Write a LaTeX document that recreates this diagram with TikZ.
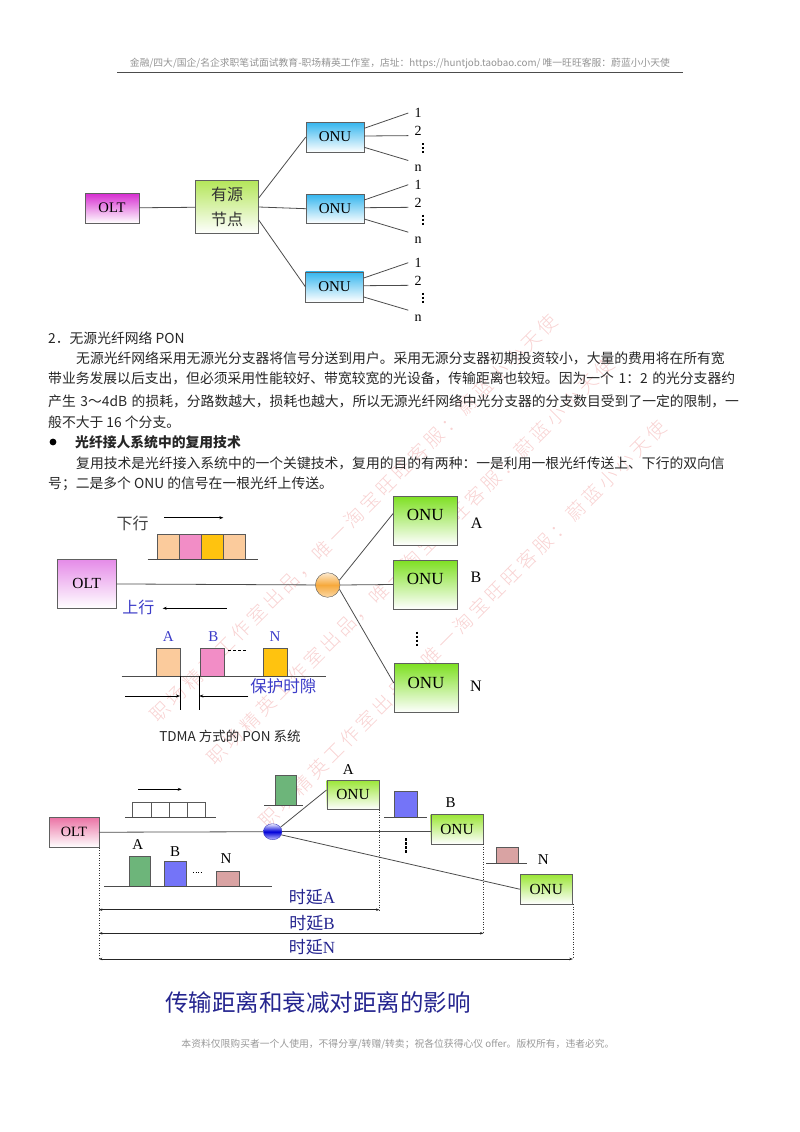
\documentclass[tikz,border=0pt]{standalone}
\usepackage{fontspec}
\setmainfont{Liberation Serif}
\newfontfamily\cjk{Noto Sans CJK SC}
\newfontfamily\wmark{Noto Sans CJK SC Light}[LetterSpace=20]
\usetikzlibrary{arrows.meta, shapes.geometric}
\XeTeXlinebreaklocale "zh"
\XeTeXlinebreakskip=0pt plus 2pt minus 0.3pt
\newcommand\fsz[1]{\fontsize{#1}{#1}\selectfont}

\definecolor{oltmag}{HTML}{D62AD0}
\definecolor{actgreen}{HTML}{B4E65A}
\definecolor{onublue}{HTML}{33B5EE}
\definecolor{oltpink}{HTML}{E58BE8}
\definecolor{onugreen}{HTML}{7EE022}
\definecolor{oltrose}{HTML}{EB73A5}
\definecolor{onulime}{HTML}{9BE637}
\definecolor{peach}{HTML}{FBCB9C}
\definecolor{pinkp}{HTML}{F28DC6}
\definecolor{goldp}{HTML}{FFC30F}
\definecolor{pktgreen}{HTML}{6DB57A}
\definecolor{pktblue}{HTML}{7474F8}
\definecolor{pktrose}{HTML}{D9A3A3}
\definecolor{upblue}{HTML}{3C3CC8}
\definecolor{navy}{HTML}{25258F}
\definecolor{splorange}{HTML}{F6A93C}
\definecolor{wmred}{HTML}{F8D2D2}

\begin{document}
\begin{tikzpicture}[x=1pt, y=-1pt,
    box/.style={draw=gray!75!black, rectangle, inner sep=0pt},
    wire/.style={draw=gray!60!black, line width=0.8pt},
    lab/.style={inner sep=1pt, font=\fsz{14}},
    pkt/.style={draw=gray!70!black, line width=0.5pt},
    base/.style={draw=gray!60!black, line width=0.8pt},
    arr/.style={-{Stealth[length=4pt,width=3pt]}, line width=0.6pt},
    dly/.style={{Stealth[length=3.5pt,width=2.5pt]}-{Stealth[length=3.5pt,width=2.5pt]}, line width=0.6pt, draw=gray!30!black},
    dotcol/.style={line width=2.2pt, dash pattern=on 2.4pt off 1.6pt},
    guide/.style={gray!40!black, line width=0.6pt, dash pattern=on 1pt off 1.5pt},
    txt/.style={inner sep=0pt, font=\cjk\fsz{13.8}, text=black!85},
    wm/.style={rotate=45, font=\wmark\fsz{19}, text=wmred, inner sep=0pt},
    onutop/.style={box, top color=onublue, bottom color=white, minimum width=58pt, minimum height=30pt, font=\fsz{15}},
    onumid/.style={box, top color=onugreen, bottom color=white, minimum width=64pt, minimum height=49pt, text depth=11pt, font=\fsz{17}},
    onubot/.style={box, top color=onulime, bottom color=white, minimum width=52.6pt, minimum height=29.3pt, font=\fsz{15.4}}]
\useasboundingbox (0,0) rectangle (800,1132);

% watermark
\node[wm] (wm1) at (354,518) {职场精英工作室出品，唯一淘宝旺旺客服：蔚蓝小小天使};
\node[wm] (wm2) at (411,561) {职场精英工作室出品，唯一淘宝旺旺客服：蔚蓝小小天使};
\node[wm] (wm3) at (463,624) {职场精英工作室出品，唯一淘宝旺旺客服：蔚蓝小小天使};

% header
\node[font=\cjk\fsz{9.8}, text=gray!85] (hdr) at (400,64) {金融/四大/国企/名企求职笔试面试教育-职场精英工作室，店址：https://huntjob.taobao.com/ 唯一旺旺客服：蔚蓝小小天使};
\draw[gray!60!black, line width=1.3pt] (117,72.5) -- (683,72.5);

% active node tree
\node[box, top color=oltmag, bottom color=white, minimum width=54pt, minimum height=30pt, font=\fsz{14.6}] (olt0) at (112,208) {OLT};
\node[box, top color=actgreen, bottom color=white, minimum width=63pt, minimum height=53pt, align=center, font=\cjk\fsz{16}, text=black!80] (act) at (227,207) {有源\\[9pt]节点};
\node[onutop] (onu01) at (335,137) {ONU};
\node[onutop, minimum height=29pt] (onu02) at (335,208.7) {ONU};
\node[onutop] (onu03) at (334.5,286.7) {ONU};
\draw[wire] (olt0) -- (act);
\draw[wire] ([yshift=9pt]act.east) -- (onu01.west);
\draw[wire] (act.east) -- (onu02.west);
\draw[wire] ([yshift=-13pt]act.east) -- (onu03.west);
\foreach \i/\c in {1/137, 2/208.7, 3/286.7}{
  \node[lab] (one\i) at (418,\c-24) {1};
  \node[lab] (two\i) at (418,\c-6) {2};
  \node[lab] (en\i) at (418,\c+31) {n};
  \draw[wire] ([yshift=8.7pt]onu0\i.east) -- ([xshift=-5pt]one\i.west);
  \draw[wire] ([yshift=1pt]onu0\i.east) -- ([xshift=-5pt]two\i.base west);
  \draw[wire] ([yshift=-10.3pt]onu0\i.east) -- ([xshift=-5pt,yshift=3pt]en\i.north west);
  \draw[dotcol] (423,\c+6) -- (423,\c+16);
}

% text
\node[txt, anchor=west] (h2) at (48,338) {2．无源光纤网络 PON};
\node[txt, anchor=west, text width=663pt] (p1) at (76,358) {\parfillskip=0pt 无源光纤网络采用无源光分支器将信号分送到用户。采用无源分支器初期投资较小，大量的费用将在所有宽};
\node[txt, anchor=west, text width=691pt] (p2) at (48,378) {\parfillskip=0pt 带业务发展以后支出，但必须采用性能较好、带宽较宽的光设备，传输距离也较短。因为一个 1：2 的光分支器约};
\node[txt, anchor=west, text width=691pt] (p3) at (48,401) {\parfillskip=0pt 产生 3～4dB 的损耗，分路数越大，损耗也越大，所以无源光纤网络中光分支器的分支数目受到了一定的限制，一};
\node[txt, anchor=west] (p4) at (48,422) {般不大于 16 个分支。};
\fill[black] (53,442) circle (3.4);
\node[txt, anchor=west, font=\cjk\bfseries\fsz{13.8}] (sec) at (75,442) {光纤接人系统中的复用技术};
\node[txt, anchor=west, text width=663pt] (q1) at (76,463) {\parfillskip=0pt 复用技术是光纤接入系统中的一个关键技术，复用的目的有两种：一是利用一根光纤传送上、下行的双向信};
\node[txt, anchor=west] (q2) at (48,484) {号；二是多个 ONU 的信号在一根光纤上传送。};

% TDMA PON
\node[box, top color=oltpink, bottom color=white, minimum width=58.7pt, minimum height=49pt, font=\fsz{15.4}] (olt1) at (86.7,583.8) {OLT};
\node[circle, draw=gray!70!black, minimum size=24.6pt, inner sep=0pt, top color=white!75!splorange, bottom color=white!55!splorange, middle color=splorange] (sp1) at (327.7,585) {};
\node[onumid] (onuA) at (425.3,520.5) {ONU};
\node[onumid] (onuB) at (425.3,584.5) {ONU};
\node[onumid] (onuN) at (426,688) {ONU};
\node[lab, font=\fsz{16}] (labA) at (476.7,523.3) {A};
\node[lab, font=\fsz{16}] (labB) at (476,577.3) {B};
\node[lab, font=\fsz{16}] (labN) at (476,686.7) {N};
\draw[wire] (olt1) -- (sp1);
\draw[wire] (sp1.22) -- ([yshift=7pt]onuA.west);
\draw[wire] (sp1.east) -- (onuB.west);
\draw[wire] (sp1.-20) -- ([yshift=5pt]onuN.west);
\draw[dotcol] (416.7,631.7) -- (416.7,646.7);

\node[font=\cjk\fsz{16}, text=black!75] (down1) at (132.7,523.3) {下行};
\draw[arr] (164,517.7) -- (223.3,517.7);
\foreach \c [count=\k from 0] in {peach,pinkp,goldp,peach}
  \filldraw[pkt, fill=\c] (157.3+21.9*\k,534) rectangle ++(21.9,25);
\draw[base] (147.7,559) -- (258.3,559);

\node[font=\cjk\fsz{16}, text=upblue] (up1) at (138.3,607.3) {上行};
\draw[arr] (226.7,608.3) -- (162.7,608.3);
\node[lab, font=\fsz{15}, text=upblue] (upA) at (168.3,636.7) {A};
\node[lab, font=\fsz{15}, text=upblue] (upB) at (213.3,636.7) {B};
\node[lab, font=\fsz{15}, text=upblue] (upN) at (275,636.7) {N};
\filldraw[pkt, fill=peach] (156,648.3) rectangle (180,676);
\filldraw[pkt, fill=pinkp] (200,648.3) rectangle (224,676);
\filldraw[pkt, fill=goldp] (263.3,648.3) rectangle (287.3,676);
\draw[line width=1.5pt, dash pattern=on 3pt off 2pt] (228.3,650.7) -- (246,650.7);
\draw[base] (121.7,676) -- (326,676);
\draw[line width=0.6pt] (180,676) -- (180,710);
\draw[line width=0.6pt] (199.3,676) -- (199.3,710);
\draw[arr] (125,696) -- (180,696);
\draw[arr] (248.3,696) -- (199.3,696);
\node[font=\cjk\fsz{16.5}, text=upblue] (guard) at (283.3,686) {保护时隙};
\node[font=\cjk\fsz{13.5}, text=black!85] (cap1) at (230,736.7) {TDMA 方式的 PON 系统};

% distance and delay
\node[box, top color=oltrose, bottom color=white, minimum width=49.4pt, minimum height=30pt, font=\fsz{14.2}] (olt2) at (74,832.3) {OLT};
\node[ellipse, draw=blue!50!gray, minimum width=18.6pt, minimum height=16pt, inner sep=0pt, top color=blue!8, bottom color=blue!25, middle color=blue!85!black] (sp2) at (272.7,831.7) {};
\node[onubot] (onuA2) at (353,794.7) {ONU};
\node[onubot] (onuB2) at (457,829.2) {ONU};
\node[onubot] (onuN2) at (546.3,889.2) {ONU};
\node[lab, font=\fsz{15}] (labA2) at (348.3,770) {A};
\node[lab, font=\fsz{15}] (labB2) at (450.7,802.7) {B};
\node[lab, font=\fsz{15}] (labN2) at (543.3,859.3) {N};
\draw[wire] (olt2) -- (sp2);
\draw[wire] (sp2.30) -- ([yshift=4.7pt]onuA2.west);
\draw[wire] (sp2.east) -- (sp2.east -| onuB2.west);
\draw[wire] (sp2.-20) -- (onuN2.west);
\draw[dotcol, line width=1.8pt] (406,838.3) -- (406,853.3);

\filldraw[pkt, fill=pktgreen] (275.3,775.7) rectangle (296.7,805.7);
\draw[base] (264.3,805.7) -- (303.3,805.7);
\filldraw[pkt, fill=pktblue] (394.3,791.7) rectangle (417.3,817.3);
\draw[base] (384.3,817.3) -- (426.7,817.3);
\filldraw[pkt, fill=pktrose] (496,847.7) rectangle (518.7,863.3);
\draw[base] (486,863.3) -- (527.3,863.3);

\draw[arr] (138.3,789.3) -- (181.7,789.3);
\foreach \k in {0,...,3}
  \draw[pkt, fill=white] (132.7+18.1*\k,802.3) rectangle ++(18.1,14.7);
\draw[base] (125,817) -- (216,817);

\node[lab, font=\fsz{15}] (upA2) at (137.7,845) {A};
\node[lab, font=\fsz{15}] (upB2) at (175,851.7) {B};
\node[lab, font=\fsz{15}] (upN2) at (226,858.3) {N};
\filldraw[pkt, fill=pktgreen] (129.3,856.7) rectangle (150.7,886.7);
\filldraw[pkt, fill=pktblue] (164,861.7) rectangle (186.7,886.7);
\filldraw[pkt, fill=pktrose] (216,871.7) rectangle (239,886.7);
\draw[line width=0.8pt, dash pattern=on 1pt off 1.5pt] (193,872) -- (203,872);
\draw[base] (104,886.7) -- (272.3,886.7);

\draw[guide] (olt2.south east) -- (olt2.south east |- 0,960);
\draw[guide] (onuA2.south east) -- (onuA2.south east |- 0,910);
\draw[guide] (onuB2.south east) -- (onuB2.south east |- 0,933.3);
\draw[guide] (onuN2.south east) -- (onuN2.south east |- 0,959);
\draw[dly] (olt2.south east |- 0,909.7) -- (onuA2.south east |- 0,909.7);
\draw[dly] (olt2.south east |- 0,933.3) -- (onuB2.south east |- 0,933.3);
\draw[dly] (olt2.south east |- 0,959) -- (onuN2.south east |- 0,959);
\node[font=\fsz{17}, text=navy] (tdA) at (312,896.7) {{\cjk 时延}A};
\node[font=\fsz{17}, text=navy] (tdB) at (312,923.3) {{\cjk 时延}B};
\node[font=\fsz{17}, text=navy] (tdN) at (312,946.7) {{\cjk 时延}N};

\node[font=\cjk\fsz{23.5}, text=navy] (ttl) at (318,1003) {传输距离和衰减对距离的影响};

% footer
\node[font=\cjk\fsz{9.8}, text=gray!80] (ftr) at (398,1044) {本资料仅限购买者一个人使用，不得分享/转赠/转卖；祝各位获得心仪 offer。版权所有，违者必究。};
\end{tikzpicture}
\end{document}
